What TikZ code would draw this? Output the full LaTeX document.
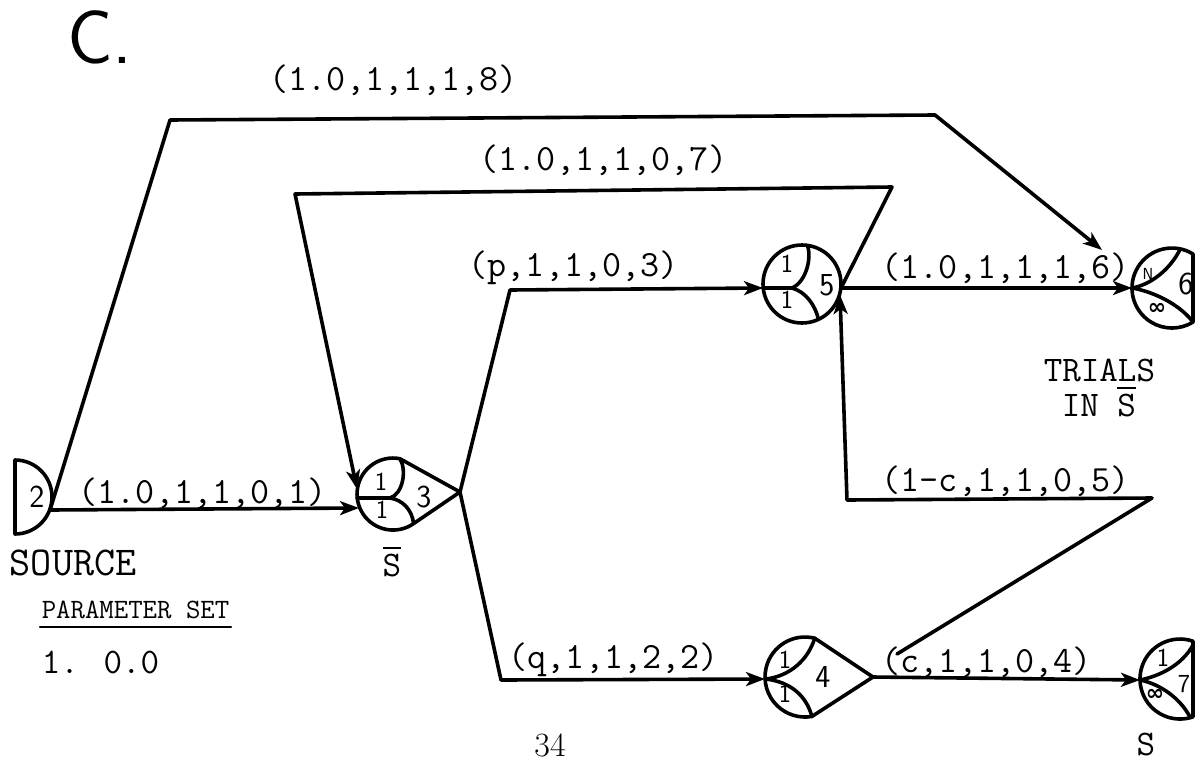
\documentclass[tikz,border=0pt]{standalone}
\usepackage{fontspec}
\newfontfamily\dejavu{DejaVu Sans}
\usetikzlibrary{arrows.meta,calc}
\newcommand{\Sbar}{\makebox[0pt][l]{\raisebox{0.78em}{\rule{0.52em}{2.2pt}}}S}
\begin{document}
\begin{tikzpicture}[x=1pt,y=-1pt,line width=3.6pt,line join=round,line cap=round,
  arr/.style={-{Stealth[length=19pt,width=14pt,inset=5pt]}},
  lab/.style={font=\fontsize{37}{40}\selectfont\ttfamily,anchor=west,inner sep=0pt},
  txt/.style={font=\fontsize{36}{40}\selectfont\ttfamily,inner sep=0pt},
  num/.style={font=\fontsize{32}{34}\selectfont\sffamily,inner sep=0pt},
  small/.style={font=\fontsize{26}{28}\selectfont\sffamily,inner sep=0pt},
  inf/.style={font=\fontsize{22}{24}\selectfont\dejavu\bfseries,inner sep=0pt}]
\useasboundingbox (0,0) rectangle (1198,771);

% ---------- title and free texts ----------
\node[font=\fontsize{76}{80}\selectfont\sffamily,inner sep=0pt] (title) at (100,37) {C.};
\node[txt,anchor=west,font=\fontsize{41}{44}\selectfont\ttfamily] (source) at (8,563) {SOURCE};
\node[txt] (sbar3) at (392,562) {\Sbar};
\node[txt,anchor=west] (trials) at (1042,370) {TRIALS};
\node[txt,anchor=west] (ins) at (1060,402) {IN \Sbar};
\node[txt,anchor=west,font=\fontsize{28}{32}\selectfont\ttfamily] (pset) at (40,610) {PARAMETER SET};
\draw[line width=2.2pt] (pset.south west)++(0,6) -- ($(pset.south east)+(0,6)$);
\node[txt,anchor=west] (pval) at (40,662) {1. 0.0};
\node[font=\fontsize{34}{38}\selectfont,inner sep=0pt] (page) at (550,745) {34};
\node[txt] (slab) at (1146,744) {S};

% ---------- source (node 2) ----------
\draw (15,460) arc[start angle=-90,end angle=90,radius=37] -- cycle;
\node[num] (n2) at (37,497) {2};
\coordinate (s_out) at (50,510);

% ---------- node 3 ----------
\draw (399.9,458.7) arc[start angle=-79,end angle=-305,radius=36] -- (460,492) -- cycle;
\draw (357.2,498) -- (390,498);
\draw (390,498) .. controls (403,494) and (407,470) .. (399.9,458.7);
\draw (390,498) .. controls (403,500) and (412,510) .. (413.6,523.5);
\node[small] (n3a) at (381,482) {1};
\node[small] (n3b) at (382,510) {1};
\node[num] (n3) at (424,497) {3};
\coordinate (n3_in) at (359,508);
\coordinate (n3_top) at (357,489);
\coordinate (n3_tip) at (460,492);

% ---------- node 4 ----------
\draw (814.7,638.2) arc[start angle=-76,end angle=-280,radius=40] -- (873,677) -- cycle;
\draw (766,679) .. controls (790,676) and (808,660) .. (814.7,638.2);
\draw (766,679) .. controls (790,682) and (806,695) .. (811.9,716.4);
\node[small] (n4a) at (785,660) {1};
\node[small] (n4b) at (785,694) {1};
\node[num] (n4) at (823,677) {4};
\coordinate (n4_in) at (765,679);
\coordinate (n4_tip) at (873,677);

% ---------- node 5 ----------
\draw (802,284) circle[radius=39];
\draw (763,288) -- (792,288);
\draw (792,288) .. controls (806,282) and (812,258) .. (807.4,245.4);
\draw (792,288) .. controls (806,292) and (815,305) .. (818.5,319.3);
\node[small] (n5a) at (787,264) {1};
\node[small] (n5b) at (787,300) {1};
\node[num] (n5) at (827,285) {5};
\coordinate (n5_in) at (763,288);
\coordinate (n5_out) at (841,288);
\coordinate (n5_bot) at (840,295);

% ---------- node 6 ----------
\draw (1193,254) arc[start angle=-58.3,end angle=-301.7,radius=40] -- cycle;
\draw (1132,288) .. controls (1150,285) and (1170,270) .. (1180.3,248.9);
\draw (1132,288) .. controls (1155,292) and (1180,305) .. (1193,322);
\node[font=\fontsize{16}{18}\selectfont\sffamily,inner sep=0pt] (n6a) at (1148,274) {N};
\node[inf] (n6b) at (1157,309) {∞};
\node[num] (n6) at (1186,284) {6};
\coordinate (n6_in) at (1132,288);
\coordinate (n6_top) at (1102,250);

% ---------- node 7 ----------
\draw (1193,641.2) arc[start angle=-71,end angle=-289,radius=40] -- cycle;
\draw (1140,680) .. controls (1160,676) and (1182,665) .. (1193,645);
\draw (1140,680) .. controls (1160,684) and (1180,698) .. (1190,717);
\node[small] (n7a) at (1163,658) {1};
\node[inf] (n7b) at (1155,695) {∞};
\node[small] (n7) at (1184,684) {7};
\coordinate (n7_in) at (1140,680);

% ---------- connectors ----------
\coordinate (k1) at (170,120);
\coordinate (k2) at (935,115);
\coordinate (k3) at (892,187);
\coordinate (k4) at (295,194);
\coordinate (k5) at (510,290);
\coordinate (k6) at (501,680);
\coordinate (c_from) at (897,654);
\coordinate (k7) at (1152,498);
\coordinate (k8) at (847,500);

\draw[arr] (s_out) -- (n3_in);
\draw[arr] (s_out) -- (k1) -- (k2) -- (n6_top);
\draw[arr] (n5_out) -- (k3) -- (k4) -- (n3_top);
\draw[arr] (n3_tip) -- (k5) -- (n5_in);
\draw[arr] (n3_tip) -- (k6) -- (n4_in);
\draw[arr] (n4_tip) -- (n7_in);
\draw[arr] (c_from) -- (k7) -- (k8) -- (n5_bot);
\draw[arr] (n5_out) -- (n6_in);

% ---------- connector labels ----------
\node[lab] (l8) at (268,80) {(1.0,1,1,1,8)};
\node[lab] (l7) at (478,160) {(1.0,1,1,0,7)};
\node[lab] (l3) at (467,268) {(p,1,1,0,3)};
\node[lab] (l6) at (880,268) {(1.0,1,1,1,6)};
\node[lab] (l1) at (77,493) {(1.0,1,1,0,1)};
\node[lab] (l5) at (880,481) {(1-c,1,1,0,5)};
\node[lab] (l2) at (507,660) {(q,1,1,2,2)};
\node[lab] (l4) at (880,662) {(c,1,1,0,4)};
\end{tikzpicture}
\end{document}
